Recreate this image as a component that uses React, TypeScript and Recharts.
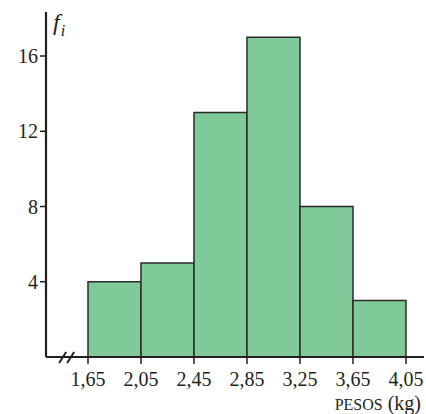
import React from 'react';
import { BarChart, Bar, XAxis, YAxis, ReferenceDot, Label } from 'recharts';

const binStarts = [1.65, 2.05, 2.45, 2.85, 3.25, 3.65];
const binWidth = 0.4;
const frequencies = [4, 5, 13, 17, 8, 3];
const xTicks = [1.65, 2.05, 2.45, 2.85, 3.25, 3.65, 4.05];
const yTicks = [4, 8, 12, 16];

const data = binStarts.map((s, i) => ({ mid: +(s + binWidth / 2).toFixed(2), f: frequencies[i] }));

const FONT = 'Liberation Serif';
const INK = '#231f20';

const fmt = (v: number) => v.toFixed(2).replace('.', ',');

const XTick = (props: any) => {
  const { x, y, payload } = props;
  return (
    <text x={x} y={y + 20} fontFamily={FONT} fontSize={20} fill={INK} textAnchor="middle">
      {fmt(payload.value)}
    </text>
  );
};

const YTick = (props: any) => {
  const { x, y, payload } = props;
  return (
    <text x={x} y={y + 7} fontFamily={FONT} fontSize={20} fill={INK} textAnchor="end">
      {payload.value}
    </text>
  );
};

const BreakMark = (props: any) => {
  const { cx, cy } = props;
  if (cx == null || cy == null) return null;
  return (
    <g stroke={INK} strokeWidth={2}>
      <line x1={cx - 9} y1={cy + 6} x2={cx - 2} y2={cy - 5} />
      <line x1={cx - 1} y1={cy + 6} x2={cx + 6} y2={cy - 5} />
    </g>
  );
};

const FiLabel = (props: any) => {
  const vb = props.viewBox || {};
  const x = (vb.x || 0) + (vb.width || 0) + 7;
  const y = (vb.y || 0) + 18;
  return (
    <text x={x} y={y} fontFamily={FONT} fontStyle="italic" fill={INK} fontSize={24}>
      f
      <tspan fontSize={16} dy={6} dx={1}>i</tspan>
    </text>
  );
};

const PesosLabel = (props: any) => {
  const vb = props.viewBox || {};
  const x = (vb.x || 0) + (vb.width || 0) - 3;
  const y = (vb.y || 0) + 53;
  return (
    <text x={x} y={y} fontFamily={FONT} fill={INK} fontSize={20} textAnchor="end">
      <tspan fontSize={16}>PESOS</tspan>
      <tspan> (kg)</tspan>
    </text>
  );
};

export default function App() {
  return (
    <div style={{ position: 'absolute', left: 0, top: 0, width: 426, height: 414, background: '#fff' }}>
      <BarChart
        width={426}
        height={414}
        data={data}
        margin={{ top: 12, right: 2, bottom: 27, left: 0 }}
        barCategoryGap={0}
        barGap={0}
      >
        <XAxis
          type="number"
          dataKey="mid"
          domain={[1.333, 4.186]}
          ticks={xTicks}
          height={30}
          allowDataOverflow
          axisLine={{ stroke: INK, strokeWidth: 2.2 }}
          tickLine={{ stroke: INK, strokeWidth: 1.5 }}
          tickSize={7}
          tickMargin={2}
          tick={XTick}
          interval={0}
        >
          <Label content={PesosLabel} />
        </XAxis>
        <YAxis
          type="number"
          domain={[0, 18.34]}
          ticks={yTicks}
          width={46}
          allowDataOverflow
          axisLine={{ stroke: INK, strokeWidth: 2.2 }}
          tickLine={{ stroke: INK, strokeWidth: 1.5 }}
          tickSize={6}
          tickMargin={2}
          tick={YTick}
          interval={0}
        >
          <Label content={FiLabel} />
        </YAxis>
        <Bar dataKey="f" fill="#80ca9a" stroke="#2b2b2b" strokeWidth={1.5} isAnimationActive={false} />
        <ReferenceDot x={1.5} y={0} r={0} shape={BreakMark} />
      </BarChart>
    </div>
  );
}
